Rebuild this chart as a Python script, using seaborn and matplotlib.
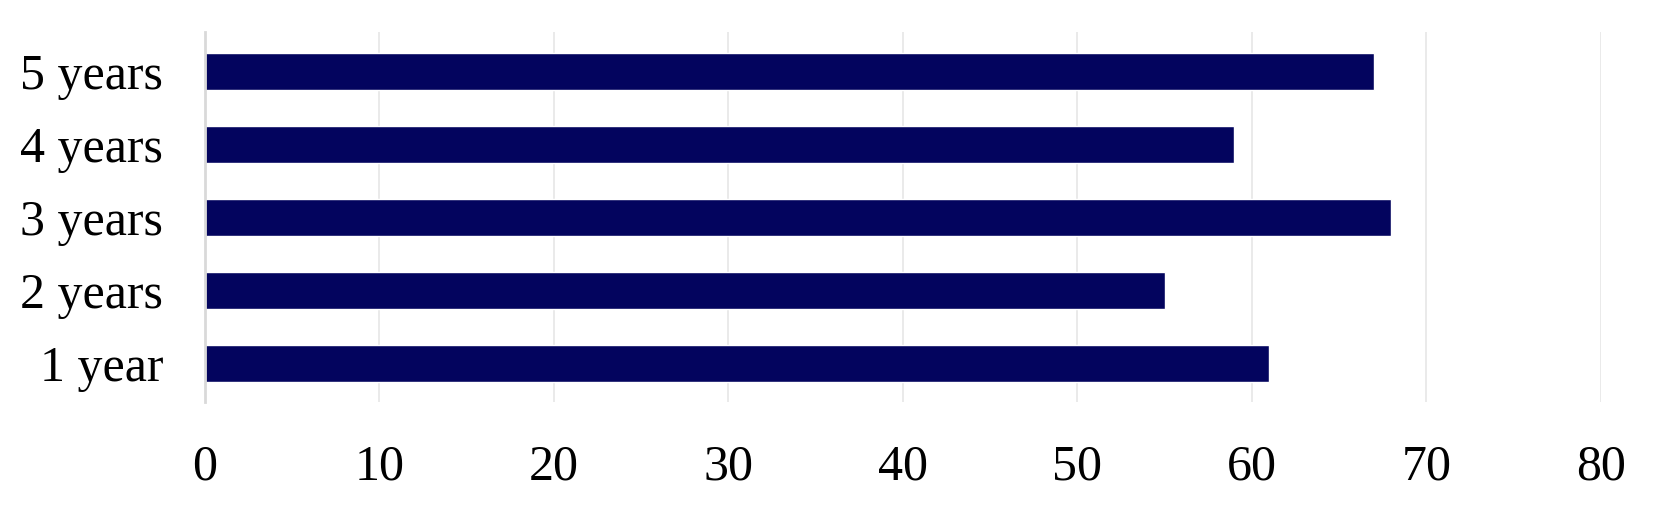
import pandas as pd
import matplotlib
matplotlib.use("Agg")
import matplotlib.pyplot as plt
import seaborn as sns

categories = ["5 years", "4 years", "3 years", "2 years", "1 year"]
values = [67, 59, 68, 55, 61]
x_ticks = [0, 10, 20, 30, 40, 50, 60, 70, 80]

df = pd.DataFrame({"period": categories, "value": values})

sns.set_style("white")
plt.rcParams["font.family"] = ["Liberation Serif", "DejaVu Serif"]

fig, ax = plt.subplots(figsize=(16.61, 5.09), dpi=100)
sns.barplot(data=df, x="value", y="period", color="#03045E", width=0.5,
            saturation=1, ax=ax)

ax.set_xlim(0, 80)
ax.set_ylim(4.53, -0.54)
ax.set_xticks(x_ticks)
ax.set_xlabel("")
ax.set_ylabel("")
ax.grid(axis="x", color="#e6e6e6", linewidth=1.2)
ax.set_axisbelow(True)
for side in ["top", "right", "bottom"]:
    ax.spines[side].set_visible(False)
ax.spines["left"].set_color("#d9d9d9")
ax.spines["left"].set_linewidth(2)
ax.tick_params(axis="both", length=0, labelsize=36, labelcolor="black")
ax.tick_params(axis="x", pad=30)
ax.tick_params(axis="y", pad=30)

plt.subplots_adjust(left=0.1234, right=0.9638, top=0.937, bottom=0.21)
plt.savefig("out.png")
